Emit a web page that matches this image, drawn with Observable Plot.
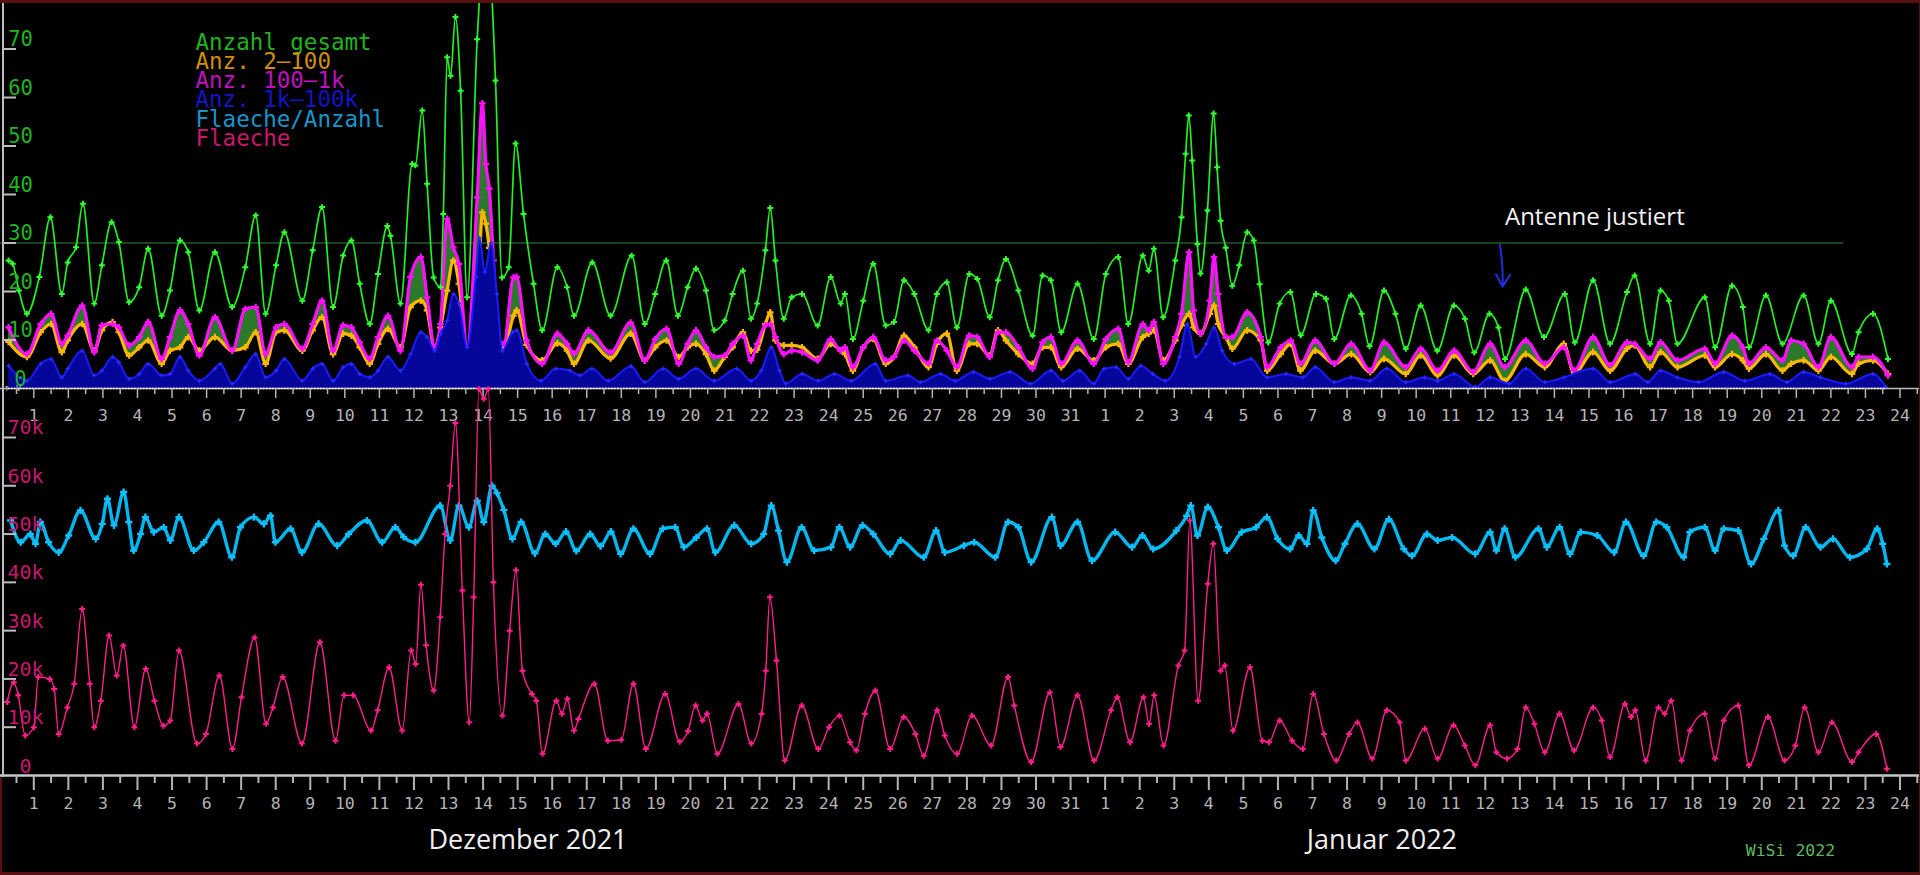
<!DOCTYPE html>
<html><head><meta charset="utf-8">
<script src="https://cdn.jsdelivr.net/npm/d3@7"></script>
<script src="https://cdn.jsdelivr.net/npm/@observablehq/plot@0.6"></script>
<style>
html,body{margin:0;padding:0;background:#000;}
#wrap{position:relative;width:1920px;height:875px;background:#000;overflow:hidden;}
#wrap svg{position:absolute;left:0;}
.strip{position:absolute;background:#5a1010;z-index:5;}
</style></head>
<body><div id="wrap">
<div class="strip" style="left:0;top:0;width:1920px;height:3px"></div>
<div class="strip" style="left:0;top:872px;width:1920px;height:3px"></div>
<div class="strip" style="left:1919px;top:0;width:1px;height:875px"></div>
<div class="strip" style="left:0;top:777px;width:2px;height:98px"></div>
<div style="position:absolute;left:2px;top:0;width:2px;height:777px;background:#bdbdbd;z-index:4"></div>
</div>
<script>
// ---- x ticks (day labels: Dezember 1..31, Januar 1..24) ----
const dayLabels = ["1","2","3","4","5","6","7","8","9","10","11","12","13","14","15","16","17","18","19","20","21","22","23","24","25","26","27","28","29","30","31",
  "1","2","3","4","5","6","7","8","9","10","11","12","13","14","15","16","17","18","19","20","21","22","23","24"];
const yTicksTop = [0,10,20,30,40,50,60,70];
const yLabelsTop = ["0","10","20","30","40","50","60","70"];
const yTicksBottom = [0,10,20,30,40,50,60,70];
const yLabelsBottom = ["0","10k","20k","30k","40k","50k","60k","70k"];

// ---- Anzahl gesamt (time in day-index units, 1 = 1. Dezember) ----
const tGesamt = [0.27,0.39,0.57,0.80,1.16,1.48,1.81,1.98,2.22,2.42,2.75,2.97,3.25,3.46,3.76,4.05,4.31,4.70,4.94,5.23,5.47,5.79,6.24,6.74,7.12,7.42,7.71,8.01,8.25,8.77,9.07,9.34,9.66,9.95,10.19,10.43,10.72,10.96,11.23,11.32,11.61,11.95,12.04,12.24,12.38,12.57,12.77,12.85,12.96,13.06,13.20,13.35,13.54,13.83,14.10,14.36,14.55,14.74,14.94,15.17,15.46,15.71,16.15,16.43,16.63,17.16,17.69,18.30,18.68,18.98,19.30,19.64,19.92,20.16,20.45,20.69,20.99,21.22,21.52,21.75,21.93,22.17,22.31,22.46,22.70,22.93,23.23,23.68,24.06,24.35,24.47,24.70,25.00,25.29,25.65,25.89,26.18,26.48,26.89,27.13,27.42,27.71,28.07,28.30,28.66,28.90,29.13,29.49,29.90,30.19,30.43,30.73,31.20,31.67,32.02,32.38,32.67,33.09,33.26,33.41,33.68,34.03,34.21,34.33,34.42,34.52,34.67,34.76,34.96,35.14,35.24,35.34,35.49,35.68,35.88,36.11,36.30,36.47,36.72,37.05,37.36,37.66,38.10,38.39,38.63,39.11,39.42,39.65,40.07,40.40,40.70,41.13,41.61,42.09,42.41,42.68,43.12,43.38,43.57,44.17,44.70,45.30,45.59,46.12,46.61,47.10,47.32,47.77,48.07,48.31,48.56,49.35,49.65,50.14,50.45,50.63,51.12,51.60,52.21,52.64,53.00,53.61,53.80,54.22,54.65];
const anzGesamt = [26.4,25.7,20.2,15.4,23.0,35.3,19.5,26.0,29.1,38.1,17.5,25.4,34.3,30.2,17.8,20.9,28.8,15.0,20.2,30.5,28.1,16.1,28.1,16.8,25.0,35.7,15.4,25.4,32.2,18.1,28.5,37.4,16.8,27.4,30.5,21.6,13.3,23.6,33.5,31.5,17.5,46.3,46.0,57.3,42.2,22.9,20.9,36.0,68.3,64.5,76.6,61.4,18.8,72.0,95.0,63.5,22.9,25.0,50.5,36.0,21.6,12.0,25.0,20.9,15.0,26.0,15.0,27.4,13.3,19.5,26.4,15.0,20.9,24.7,20.2,12.0,14.0,19.5,24.3,14.4,17.5,28.5,37.2,26.4,14.4,18.8,19.5,13.0,23.0,17.5,19.5,10.2,18.1,25.7,13.0,13.7,22.3,19.5,12.0,19.5,21.9,12.6,23.6,22.6,14.7,22.3,26.7,20.2,10.9,23.3,22.3,11.6,21.6,10.2,23.6,27.1,13.3,27.4,24.3,28.8,14.7,26.4,35.3,48.4,56.3,47.0,29.8,23.7,36.7,56.7,45.6,34.6,29.0,21.2,25.4,32.2,30.5,21.5,9.5,17.5,19.9,11.0,19.5,18.5,10.2,19.2,15.4,8.7,20.2,15.4,8.2,17.1,7.8,17.1,14.4,7.4,15.4,12.6,6.1,20.4,10.6,19.5,9.5,22.3,9.2,19.9,23.3,9.2,20.2,18.1,9.2,18.8,8.5,21.2,16.8,8.5,19.2,9.2,19.2,9.2,18.1,7.1,11.6,15.4,6.1];

// ---- Anz. 2-100 und Anz. 100-1k (shared times) ----
const tKlassen = [0.27,0.80,1.20,1.50,1.81,1.98,2.40,2.75,2.97,3.28,3.46,3.76,4.05,4.31,4.70,4.94,5.23,5.47,5.79,6.24,6.74,7.12,7.42,7.71,8.01,8.25,8.77,9.07,9.34,9.66,9.95,10.19,10.43,10.72,10.96,11.25,11.61,11.90,12.20,12.38,12.60,12.77,12.96,13.14,13.30,13.54,13.83,13.98,14.08,14.18,14.30,14.40,14.60,14.88,14.97,15.26,15.71,16.15,16.43,16.63,17.05,17.69,18.27,18.68,18.98,19.31,19.66,19.92,20.16,20.45,20.69,20.99,21.22,21.52,21.75,21.93,22.17,22.31,22.46,22.70,22.93,23.23,23.68,24.06,24.35,24.47,24.70,25.00,25.29,25.65,25.89,26.18,26.48,26.89,27.13,27.42,27.71,28.07,28.30,28.66,28.90,29.13,29.49,29.90,30.19,30.43,30.73,31.20,31.67,32.02,32.38,32.67,33.09,33.26,33.41,33.68,34.03,34.21,34.43,34.56,34.76,35.03,35.15,35.27,35.50,35.68,36.11,36.50,36.69,37.08,37.37,37.65,38.08,38.63,39.12,39.67,40.07,40.70,41.13,41.62,42.10,42.65,43.14,43.56,44.17,44.72,45.27,45.57,46.12,46.61,47.10,47.32,47.77,48.07,48.56,49.35,49.65,50.14,50.45,50.63,51.12,51.60,51.85,52.21,52.64,53.00,53.61,53.80,54.22,54.65];
const anz2_100 = [9.6,6.5,11.6,13.3,7.5,9.9,13.3,7.8,12.0,13.7,11.6,6.8,8.5,9.9,5.1,7.8,8.5,10.6,7.8,10.6,7.8,8.5,11.6,5.1,11.6,12.0,7.8,12.0,14.7,7.1,11.3,10.9,8.5,5.1,9.2,12.3,8.5,16.8,18.1,16.1,8.2,12.6,20.2,26.4,21.6,7.1,16.0,36.3,34.0,29.0,20.0,11.0,8.0,15.0,16.1,9.0,5.8,9.3,7.8,5.1,9.9,6.2,11.3,5.8,8.5,9.9,6.5,8.5,9.2,7.1,3.7,6.5,8.5,11.6,7.8,8.0,13.3,15.7,9.9,8.9,8.9,8.5,6.1,9.2,7.8,7.1,3.7,8.5,10.2,5.1,6.5,10.9,8.5,4.4,9.2,11.3,3.7,9.2,9.2,6.8,12.0,9.9,7.1,5.1,8.5,8.5,4.4,8.2,5.8,8.5,9.2,5.1,10.6,11.3,12.0,5.8,9.9,13.0,15.4,12.6,11.3,15.4,17.1,13.3,10.5,8.2,12.0,9.9,3.7,7.1,9.2,3.7,7.8,5.1,7.1,3.4,6.1,3.0,6.8,2.7,6.8,3.0,5.8,1.6,7.1,4.4,9.2,3.0,7.5,3.7,8.2,8.9,4.4,7.5,4.4,6.8,4.4,7.1,5.8,4.1,7.1,3.7,5.1,5.8,3.7,6.5,3.0,5.1,5.8,3.0];
const anz100_1k = [12.6,7.1,13.3,15.4,9.2,10.9,17.1,7.5,13.0,13.3,12.6,8.9,10.6,13.7,6.1,10.6,16.1,13.3,6.8,14.7,7.8,16.4,16.8,7.1,12.6,13.3,8.2,13.3,18.1,7.8,13.0,12.6,9.5,6.1,10.6,15.0,7.8,23.0,27.1,18.8,8.5,13.3,35.0,29.1,25.7,8.5,39.4,58.8,46.3,41.2,26.4,11.3,9.2,22.9,23.0,9.9,5.1,11.3,9.2,7.2,12.0,7.4,13.6,5.8,10.2,12.3,5.1,9.2,12.0,8.5,6.5,6.8,9.2,10.9,5.8,9.2,13.0,13.3,10.6,7.1,7.8,7.5,5.8,10.2,7.8,8.5,4.4,8.5,10.6,5.8,6.5,9.9,7.8,5.1,9.9,7.8,4.4,10.9,10.6,6.5,11.6,11.6,8.5,4.1,9.5,10.6,5.1,9.9,5.1,10.2,12.3,5.4,13.3,12.0,13.7,5.1,10.6,15.4,28.1,16.1,11.3,18.1,27.1,19.5,10.6,10.6,15.7,10.6,4.4,8.5,9.9,5.1,9.9,5.1,9.2,3.7,9.5,4.4,8.2,3.7,7.8,3.4,9.2,4.4,9.9,5.1,8.5,3.7,10.6,4.8,9.5,9.2,6.1,9.5,5.8,8.2,5.1,10.9,8.5,5.1,8.5,5.8,9.9,9.2,4.4,10.6,4.4,6.5,6.5,2.7];

// ---- Anz. 1k-100k ----
const tGross = [0.27,0.80,1.20,1.50,1.81,1.98,2.40,2.75,2.97,3.28,3.46,3.76,4.05,4.31,4.70,4.94,5.23,5.47,5.79,6.24,6.40,6.74,7.12,7.42,7.71,8.01,8.25,8.77,9.07,9.34,9.66,9.95,10.19,10.43,10.72,10.96,11.25,11.61,11.90,12.20,12.38,12.60,12.77,12.96,13.14,13.30,13.54,13.79,13.90,14.05,14.23,14.40,14.56,14.85,14.97,15.27,15.68,16.10,16.51,16.80,17.15,17.62,18.28,18.68,19.21,19.66,20.16,20.69,21.34,21.75,22.05,22.34,22.58,22.76,23.23,23.70,24.17,24.65,25.35,25.65,26.30,26.65,27.24,27.66,28.19,28.66,29.25,29.84,30.43,30.78,31.26,31.67,31.97,32.32,32.67,33.03,33.38,33.74,34.15,34.38,34.62,34.92,35.15,35.39,35.74,36.22,36.69,37.23,37.72,38.08,38.63,39.12,39.67,40.15,40.70,41.25,41.62,42.10,42.71,43.14,43.69,44.17,44.72,45.27,46.12,46.61,47.34,47.70,48.07,48.56,49.17,49.90,50.51,51.24,51.73,52.21,52.70,53.43,54.22,54.59];
const anz1k_100k = [4.7,1.6,5.1,6.1,2.3,4.1,7.8,2.7,3.7,6.5,5.4,2.0,3.0,5.1,2.7,3.0,6.5,3.7,1.6,4.1,5.1,1.0,4.4,7.1,2.3,3.7,6.1,1.6,4.1,5.1,1.6,4.4,5.1,3.0,2.3,3.7,6.5,3.7,7.1,11.6,10.6,7.8,11.3,14.0,19.5,17.5,8.5,23.0,31.0,24.0,30.0,19.5,7.8,11.6,12.0,5.1,1.6,4.1,3.7,2.7,4.1,1.6,4.6,1.3,4.1,2.0,4.1,1.6,4.1,1.6,3.7,8.5,3.7,1.0,3.0,1.6,3.0,1.6,5.1,1.6,2.7,1.3,3.0,1.6,3.4,2.0,3.4,1.0,3.7,1.6,3.7,1.0,4.1,4.4,2.0,4.7,3.0,1.6,6.5,13.3,6.5,9.2,12.6,7.8,5.1,6.1,2.3,3.0,2.3,4.4,1.3,2.3,1.6,4.1,1.3,2.3,1.6,3.0,0.3,2.3,1.0,4.1,1.3,2.3,4.1,1.3,3.0,1.3,3.7,2.3,1.3,3.4,1.6,3.0,1.3,3.4,2.3,1.0,3.0,0.3];

// ---- Flaeche (in tausend) ----
const tFlaeche = [0.23,0.42,0.55,0.75,1.00,1.13,1.46,1.59,1.72,1.97,2.17,2.40,2.62,2.75,2.94,3.18,3.40,3.59,3.91,4.24,4.49,4.75,4.95,5.20,5.72,5.98,6.37,6.75,7.01,7.39,7.72,7.92,8.20,8.76,9.28,9.73,9.98,10.24,10.76,10.95,11.28,11.66,11.92,12.05,12.20,12.35,12.57,12.76,12.90,13.05,13.20,13.40,13.60,13.73,13.88,14.02,14.15,14.30,14.56,14.77,14.95,15.14,15.41,15.54,15.72,16.12,16.28,16.44,16.63,16.76,17.22,17.61,18.00,18.35,18.71,19.27,19.69,19.93,20.15,20.35,20.48,20.78,21.39,21.76,22.06,22.18,22.30,22.49,22.73,23.22,23.70,24.01,24.31,24.62,24.80,25.05,25.35,25.78,26.17,26.51,26.75,27.14,27.36,27.72,28.15,28.70,29.19,29.37,29.86,30.40,30.71,31.20,31.68,32.17,32.35,32.72,33.11,33.27,33.42,33.69,34.12,34.30,34.45,34.69,34.97,35.13,35.34,35.46,35.70,36.19,36.55,36.74,37.05,37.41,37.72,38.02,38.33,38.69,39.06,39.30,39.73,40.15,40.52,40.70,41.25,41.62,42.08,42.41,42.71,43.14,43.32,43.63,43.93,44.17,44.42,44.72,45.15,45.57,46.12,46.37,46.61,47.04,47.22,47.34,47.64,48.01,48.19,48.38,48.68,48.92,49.35,49.65,49.90,50.32,50.63,51.18,51.66,51.97,52.24,52.64,53.03,53.61,53.80,54.31,54.62];
const flaeche = [15.2,19.3,16.6,8.3,10.0,20.4,20.0,17.9,8.6,14.1,19.0,34.5,19.0,10.0,15.5,29.0,20.7,26.9,10.0,22.1,15.5,10.3,11.4,25.9,6.6,8.6,20.7,5.5,16.2,28.6,10.7,14.1,20.4,6.6,27.6,7.2,16.6,16.6,9.3,13.5,22.4,9.3,25.9,23.1,39.5,27.0,17.6,32.8,50.0,60.0,73.0,38.3,11.0,36.9,80.0,78.0,80.0,40.0,12.4,30.0,42.5,21.7,16.9,15.5,4.5,15.5,12.8,15.9,9.3,11.7,19.0,7.2,7.4,19.0,5.5,16.9,7.0,9.2,14.5,11.4,12.8,4.5,14.8,6.6,12.8,21.7,36.9,23.8,3.1,14.5,5.5,10.0,12.4,6.9,5.2,12.8,17.6,5.5,12.1,8.6,4.1,13.5,8.3,4.5,12.4,6.2,20.4,14.5,2.8,17.2,5.9,16.6,3.1,13.5,16.2,6.9,16.2,10.7,16.6,6.2,22.8,25.9,52.8,15.5,39.7,48.0,21.7,22.8,9.3,22.4,7.2,6.9,11.4,7.2,5.5,16.9,8.6,3.1,8.6,11.0,3.5,13.5,11.0,3.1,9.7,3.5,10.4,6.2,2.1,10.4,4.8,3.5,5.5,14.1,10.7,4.8,12.8,5.2,14.1,11.4,3.8,14.8,12.1,13.5,3.1,14.1,12.8,15.5,3.1,9.3,12.8,3.5,11.4,14.5,2.1,12.1,3.1,6.2,14.1,4.8,11.0,2.8,4.8,8.6,1.4];

// ---- Flaeche/Anzahl (in tausend) ----
const tQuotient = [0.33,0.62,0.90,1.05,1.19,1.43,1.72,2.01,2.35,2.79,2.98,3.13,3.32,3.60,3.75,3.89,4.09,4.23,4.47,4.76,4.95,5.20,5.63,5.92,6.35,6.73,6.98,7.37,7.66,7.85,7.99,8.43,8.76,9.24,9.78,10.11,10.64,11.08,11.46,11.70,12.04,12.76,13.05,13.30,13.59,13.83,14.02,14.26,14.40,14.60,14.85,15.10,15.50,15.80,16.10,16.40,16.70,17.10,17.40,17.70,17.98,18.35,18.83,19.20,19.56,19.81,20.17,20.48,20.72,21.27,21.76,22.12,22.34,22.55,22.79,23.22,23.58,24.07,24.31,24.62,24.98,25.29,25.78,26.08,26.75,27.11,27.36,27.91,28.21,28.82,29.19,29.49,29.86,30.46,30.71,31.20,31.62,32.29,32.78,33.08,33.39,34.06,34.36,34.48,34.67,34.97,35.28,35.52,35.95,36.37,36.68,36.99,37.35,37.60,37.84,38.02,38.27,38.67,38.94,39.30,39.79,40.21,40.64,40.88,41.31,41.62,42.04,42.71,43.14,43.32,43.56,43.87,44.54,44.78,45.15,45.45,45.76,46.24,46.73,47.07,47.58,47.95,48.25,48.74,48.92,49.35,49.65,49.90,50.32,50.69,51.06,51.48,51.66,51.91,52.27,52.70,53.06,53.55,54.04,54.34,54.50,54.62];
const flaecheProAnzahl = [52.8,48.3,50.0,48.0,52.5,48.3,46.2,49.7,54.9,49.0,52.1,57.3,51.8,58.7,52.5,46.6,50.0,53.5,50.4,51.4,48.7,53.5,46.6,48.3,52.5,45.2,51.4,53.5,52.1,53.8,48.3,51.1,46.2,52.1,47.6,50.0,52.8,48.3,51.4,49.4,48.3,55.9,48.7,55.9,51.4,56.9,52.5,60.0,58.5,55.0,49.0,52.5,46.0,50.0,48.0,50.5,46.5,50.0,47.5,50.5,45.9,51.1,45.9,51.1,51.4,47.3,49.3,51.1,46.2,51.8,48.0,50.0,55.9,50.7,44.2,51.4,46.6,47.3,51.4,47.3,51.8,50.0,45.9,48.7,45.2,50.7,46.2,47.6,48.3,45.2,52.5,51.4,44.2,53.5,47.6,52.5,44.5,50.4,47.3,49.7,46.9,50.7,53.8,55.9,49.7,55.6,51.4,46.6,50.4,51.4,53.5,49.0,46.9,49.7,48.0,54.9,49.3,44.5,48.0,52.1,46.9,53.1,46.9,45.5,50.0,48.7,49.3,45.9,50.4,46.6,51.1,45.2,51.1,47.3,51.4,45.9,50.4,49.7,46.2,52.5,45.5,52.5,51.4,45.2,50.4,51.4,46.6,51.1,50.7,43.8,49.0,54.9,47.6,45.5,51.4,47.3,49.0,45.2,46.9,51.1,48.0,43.8];

// ---- legend, annotations, captions ----
const legendLabels = ["Anzahl gesamt","Anz. 2\u2013100","Anz. 100\u20131k","Anz. 1k\u2013100k","Flaeche/Anzahl","Flaeche"];
const legendColors = ["#1fb41f","#d18e0c","#c010c0","#1414c8","#1596cc","#c8186e"];
const schwelle = [30];
const schwelleEnde = 53.37;
const annotation = [{u: 46.17, v: 35.2, text: "Antenne justiert"}];
const arrowPts = [{u1: 43.42, v1: 29.6, u2: 43.5, v2: 21.0}];
const captions = [{u: 15.30, text: "Dezember 2021"}, {u: 40.01, text: "Januar 2022"}];
const signature = [{u: 51.83, text: "WiSi 2022"}];

// ---- tables ----
const gesamt = tGesamt.map((t, i) => ({t, v: anzGesamt[i]}));
const klassen = tKlassen.map((t, i) => ({t, o: anz2_100[i], m: anz100_1k[i]}));
const gross = tGross.map((t, i) => ({t, v: anz1k_100k[i]}));
const fl = tFlaeche.map((t, i) => ({t, v: flaeche[i]}));
const quot = tQuotient.map((t, i) => ({t, v: flaecheProAnzahl[i]}));

const mono = "DejaVu Sans Mono, monospace";
const sans = "Open Sans, Noto Sans, sans-serif";
const curve = "monotone-x";
const xScale = {type: "linear", domain: [0.03646, 55.593]};
const dayTicks = dayLabels.map((d, i) => i + 1);
const halfTicks = d3.range(0, 56).map(i => i + 0.5);

const topPlot = Plot.plot({
  width: 1920, height: 420,
  marginTop: 9.7, marginBottom: 32, marginLeft: 0, marginRight: 0,
  x: xScale,
  y: {domain: [0, 78]},
  style: {background: "transparent", color: "#b4b4b4", fontFamily: mono, overflow: "visible"},
  marks: [
    Plot.ruleY(schwelle, {x1: xScale.domain[0], x2: schwelleEnde, stroke: "#1d431d", strokeWidth: 2}),
    Plot.areaY(klassen, {x: "t", y1: "o", y2: d => Math.max(d.o, d.m), fill: "#2b7a2b", curve}),
    Plot.lineY(klassen, {x: "t", y: "o", stroke: "#ffb800", strokeWidth: 3.2, curve}),
    Plot.dot(klassen, {x: "t", y: "o", fill: "#ffb800", r: 2.8, symbol: "cross"}),
    Plot.lineY(klassen, {x: "t", y: "m", stroke: "#ff10ff", strokeWidth: 3.2, curve}),
    Plot.dot(klassen, {x: "t", y: "m", fill: "#ff10ff", r: 2.8, symbol: "cross"}),
    Plot.areaY(gross, {x: "t", y: "v", fill: "#06069a", curve}),
    Plot.lineY(gross, {x: "t", y: "v", stroke: "#1a1aff", strokeWidth: 2, curve}),
    Plot.dot(gross, {x: "t", y: "v", fill: "#2a2aff", r: 1.8, symbol: "cross"}),
    Plot.lineY(gesamt, {x: "t", y: "v", stroke: "#22f022", strokeWidth: 1.7, curve}),
    Plot.dot(gesamt, {x: "t", y: "v", fill: "#33ff33", r: 2.5, symbol: "cross"}),
    Plot.ruleY([0], {stroke: "#bdbdbd", strokeWidth: 1.5}),
    Plot.ruleY([0], {x1: tGross[0], x2: tGross[tGross.length - 1], stroke: "#ffffff", strokeWidth: 1.5, strokeDasharray: "1.5 1.5"}),
    Plot.axisX({ticks: dayTicks, tickSize: 10, tickPadding: 11, tickFormat: d => dayLabels[d - 1], fontSize: 16.5, color: "#b4b4b4", strokeWidth: 1.5}),
    Plot.axisX({ticks: halfTicks, tickSize: 6, tickFormat: () => "", color: "#b4b4b4", strokeWidth: 1.5}),
    Plot.axisY({ticks: yTicksTop.slice(1), tickSize: 13, dx: 16, tickFormat: () => "", color: "#bdbdbd", strokeWidth: 2}),
    Plot.text(yTicksTop, {y: d => d, text: (d, i) => yLabelsTop[i], frameAnchor: "left", dx: 20, dy: -3, lineAnchor: "bottom", textAnchor: "middle", fill: "#1fb41f", fontSize: 20.5}),
    ...legendLabels.map((lab, i) => Plot.text([lab], {text: d => d, frameAnchor: "top-left", dx: 195, dy: 39.3 + i * 19.33, lineAnchor: "bottom", textAnchor: "start", fill: legendColors[i], fontSize: 22.5})),
    Plot.arrow(arrowPts, {x1: "u1", y1: "v1", x2: "u2", y2: "v2", stroke: "#1f2fe0", strokeWidth: 2, headLength: 14, bend: 6}),
    Plot.text(annotation, {x: "u", y: "v", text: "text", fill: "#f2f2f2", fontSize: 24, fontFamily: sans, lineAnchor: "middle"})
  ]
});
topPlot.style.top = "0px";
document.getElementById("wrap").appendChild(topPlot);

const bottomPlot = Plot.plot({
  width: 1920, height: 495,
  marginTop: 8.7, marginBottom: 100, marginLeft: 0, marginRight: 0,
  x: xScale,
  y: {domain: [0, 80]},
  style: {background: "transparent", color: "#b4b4b4", fontFamily: mono, overflow: "visible"},
  marks: [
    Plot.lineY(quot, {x: "t", y: "v", stroke: "#00b8f0", strokeWidth: 3.4, curve}),
    Plot.dot(quot, {x: "t", y: "v", fill: "#10c0ff", r: 3, symbol: "cross"}),
    Plot.lineY(fl, {x: "t", y: "v", stroke: "#ff1e8c", strokeWidth: 1.4, curve}),
    Plot.dot(fl, {x: "t", y: "v", fill: "#ff1e8c", r: 2.5, symbol: "cross"}),
    Plot.ruleY([0], {stroke: "#c8c8c8", strokeWidth: 2.5}),
    Plot.axisX({ticks: dayTicks, tickSize: 15, tickPadding: 7, tickFormat: d => dayLabels[d - 1], fontSize: 16.5, color: "#b4b4b4", strokeWidth: 2}),
    Plot.axisX({ticks: halfTicks, tickSize: 8, tickFormat: () => "", color: "#b4b4b4", strokeWidth: 2}),
    Plot.axisY({ticks: yTicksBottom.slice(1), tickSize: 13, dx: 16, tickFormat: () => "", color: "#bdbdbd", strokeWidth: 2}),
    Plot.text(yTicksBottom, {y: d => d, text: (d, i) => yLabelsBottom[i], frameAnchor: "left", dx: 25, dy: -3, lineAnchor: "bottom", textAnchor: "middle", fill: "#c8186e", fontSize: 20}),
    Plot.text(captions, {x: "u", text: "text", frameAnchor: "bottom", dy: 73, lineAnchor: "bottom", fill: "#f0f0f0", fontSize: 27, fontFamily: sans}),
    Plot.text(signature, {x: "u", text: "text", frameAnchor: "bottom", dy: 80, lineAnchor: "bottom", fill: "#5cb85c", fontSize: 16.5})
  ]
});
bottomPlot.style.top = "380px";
document.getElementById("wrap").appendChild(bottomPlot);
</script>
</body></html>
